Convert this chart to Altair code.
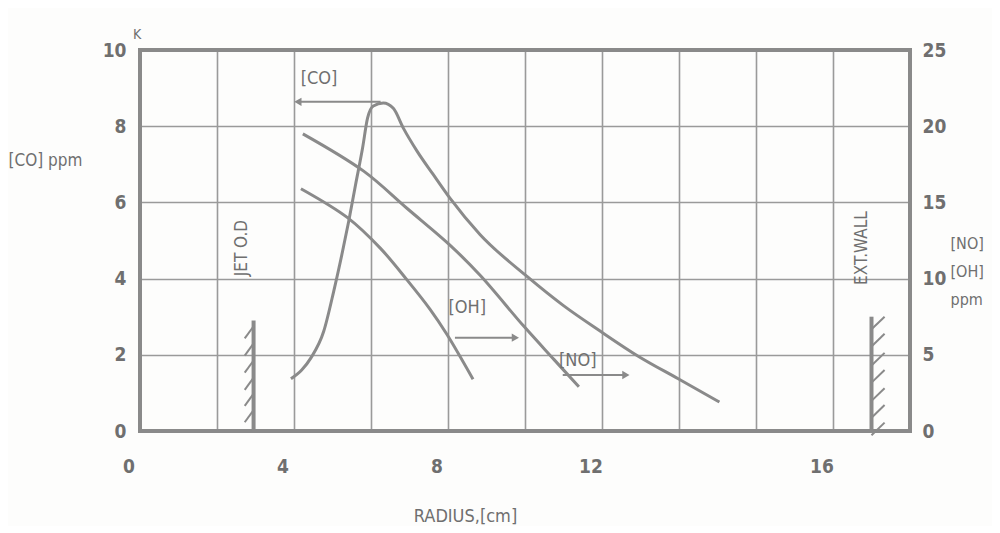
import altair as alt
import pandas as pd

# ---- data (x in cm grid units, left y in 10^3 ppm, right y in ppm) ----
co_x = [3.92, 4.20, 4.44, 4.77, 5.03, 5.26, 5.42, 5.60, 5.78, 5.91, 6.06, 6.32, 6.58, 6.84, 7.20,
        7.61, 8.05, 8.83, 10.06, 11.00, 11.97, 12.93, 13.98, 15.05]
co_y = [1.37, 1.60, 1.92, 2.61, 3.66, 4.71, 5.50, 6.47, 7.42, 8.21, 8.53, 8.61, 8.47, 7.95, 7.34,
        6.74, 6.11, 5.16, 4.05, 3.29, 2.61, 1.97, 1.37, 0.76]

no_x = [4.23, 5.81, 6.94, 8.05, 8.84, 9.96, 10.75, 11.40]
no_y = [19.5, 17.05, 14.6, 12.2, 10.2, 6.9, 4.7, 2.9]

oh_x = [4.18, 5.39, 6.24, 6.94, 7.53, 7.97, 8.65]
oh_y = [15.9, 14.0, 12.0, 9.9, 8.0, 6.35, 3.4]

x_grid = [0, 2, 4, 6, 8, 10, 12, 14, 16, 18, 20]
x_tick_pos = [0, 4, 8, 12, 18]
x_tick_text = ["0", "4", "8", "12", "16"]
left_ticks = [0, 2, 4, 6, 8, 10]
right_ticks = [0, 5, 10, 15, 20, 25]

# walls (left units)
jet_x, jet_top = 2.95, 2.9
jet_hatch_y = [2.75, 2.3, 1.85, 1.4, 0.98, 0.55]
ext_x, ext_top = 19.0, 3.0
ext_hatch_y = [3.0, 2.55, 2.05, 1.6, 1.12, 0.68, 0.22]

# annotation labels (left units)
lab_text = ["[CO]", "[OH]", "[NO]"]
lab_x = [4.65, 8.5, 11.37]
lab_y = [9.24, 3.24, 1.84]

# arrows: start, end (tip), y
arr_x1 = [6.25, 8.18, 10.98]
arr_x2 = [4.1, 9.75, 12.62]
arr_y = [8.64, 2.45, 1.47]
arr_shape = ["triangle-left", "triangle-right", "triangle-right"]

FONT = "'Liberation Sans Narrow', 'DejaVu Sans Condensed', 'Roboto Condensed', sans-serif"
INK = "#8a8a8a"
TXT = "#6f6f6f"

XD = [0, 20]
YL = [0, 10]
YR = [0, 25]

X_AXIS = alt.Axis(values=x_grid, grid=True, gridColor="#9a9a9a", gridWidth=1.6,
                  gridOpacity=1, ticks=False, domain=False, labels=False,
                  title="RADIUS,[cm]", titleFont=FONT, titleFontSize=18,
                  titleFontWeight="normal", titleColor=TXT, titleX=325, titleY=90,
                  titleBaseline="alphabetic", titleAlign="center")


def xs(field="x"):
    return alt.X(f"{field}:Q", scale=alt.Scale(domain=XD, nice=False, zero=False), axis=X_AXIS)


def yl(field="y"):
    return alt.Y(f"{field}:Q", scale=alt.Scale(domain=YL, nice=False), axis=None)


# CO curve carries the left axis
co_df = pd.DataFrame({"x": co_x, "y": co_y})
co = alt.Chart(co_df).mark_line(
    color=INK, strokeWidth=3, interpolate="monotone"
).encode(
    x=xs(),
    y=alt.Y("y:Q", scale=alt.Scale(domain=YL, nice=False),
            axis=alt.Axis(values=left_ticks, grid=True, gridColor="#9a9a9a", gridWidth=1.6,
                          gridOpacity=1, ticks=False, domain=False, labelPadding=14,
                          labelFont=FONT, labelFontSize=19, labelFontWeight="bold",
                          labelColor=TXT, title="[CO]  ppm", titleFont=FONT, titleFontSize=17,
                          titleFontWeight="normal", titleColor=TXT, titleAngle=0,
                          titleX=-132, titleY=110, titleAlign="left",
                          titleBaseline="middle")),
    order="x:Q",
)

# frame of the plot
fr_df = pd.DataFrame({"x": [XD[0]], "x2": [XD[1]], "y": [YL[0]], "y2": [YL[1]]})
frame = alt.Chart(fr_df).mark_rect(fill=None, fillOpacity=0, stroke=INK, strokeWidth=4).encode(
    x=xs(), x2="x2:Q", y=yl(), y2="y2:Q")

# x tick labels (placed as in the picture)
xt_df = pd.DataFrame({"x": x_tick_pos, "y": [0] * len(x_tick_pos), "t": x_tick_text})
xticks = alt.Chart(xt_df).mark_text(
    font=FONT, fontSize=19, fontWeight="bold", color=TXT, dx=-11, dy=36,
    align="center", baseline="middle"
).encode(x=xs(), y=yl(), text="t:N")

# right-axis series
rdf = pd.concat([
    pd.DataFrame({"x": no_x, "r": no_y, "s": "NO"}),
    pd.DataFrame({"x": oh_x, "r": oh_y, "s": "OH"}),
])
right = alt.Chart(rdf).mark_line(
    color=INK, strokeWidth=3, interpolate="catmull-rom"
).encode(
    x=xs(),
    y=alt.Y("r:Q", scale=alt.Scale(domain=YR, nice=False),
            axis=alt.Axis(orient="right", values=right_ticks, grid=False, ticks=False,
                          domain=False, labelPadding=12, labelFont=FONT, labelFontSize=19,
                          labelFontWeight="bold", labelColor=TXT,
                          title=["[NO]", "[OH]", "", "ppm"], titleFont=FONT, titleFontSize=16,
                          titleFontWeight="normal", titleColor=TXT, titleAngle=0,
                          titleX=40, titleY=193, titleAlign="left", titleBaseline="middle",
                          titleLineHeight=28)),
    detail="s:N",
    order="x:Q",
)

# walls
wall_df = pd.DataFrame({"x": [jet_x, ext_x], "y": [0, 0], "y2": [jet_top, ext_top]})
walls = alt.Chart(wall_df).mark_rule(color=INK, strokeWidth=4).encode(
    x=xs(), y=yl(), y2="y2:Q")

jet_h = pd.DataFrame({"x": [jet_x - 0.23] * len(jet_hatch_y), "x2": [jet_x] * len(jet_hatch_y),
                      "y": [v - 0.32 for v in jet_hatch_y], "y2": jet_hatch_y})
ext_h = pd.DataFrame({"x": [ext_x] * len(ext_hatch_y), "x2": [ext_x + 0.34] * len(ext_hatch_y),
                      "y": [v - 0.33 for v in ext_hatch_y], "y2": ext_hatch_y})
hatch = alt.Chart(pd.concat([jet_h, ext_h])).mark_rule(color=INK, strokeWidth=2).encode(
    x=xs(), x2="x2:Q", y=yl(), y2="y2:Q")

# wall labels
wl_df = pd.DataFrame({"x": [2.65, 18.76], "y": [4.8, 4.8], "t": ["JET O.D", "EXT.WALL"]})
wall_lab = alt.Chart(wl_df).mark_text(
    angle=270, font=FONT, fontSize=17, color=TXT, align="center", baseline="middle"
).encode(x=xs(), y=yl(), text="t:N")

# series labels
lab_df = pd.DataFrame({"x": lab_x, "y": lab_y, "t": lab_text})
labels = alt.Chart(lab_df).mark_text(
    font=FONT, fontSize=18, color=TXT, align="center", baseline="middle"
).encode(x=xs(), y=yl(), text="t:N")

# arrows
arr_df = pd.DataFrame({"x": arr_x1, "x2": arr_x2, "y": arr_y, "shape": arr_shape})
arr_lines = alt.Chart(arr_df).mark_rule(color=INK, strokeWidth=2).encode(
    x=xs(), x2="x2:Q", y=yl())
arr_heads = alt.Chart(arr_df).mark_point(
    filled=True, color=INK, size=70, opacity=1
).encode(
    x=xs("x2"), y=yl(),
    shape=alt.Shape("shape:N", scale=None, legend=None))

# "K" superscript of the top left label
k_df = pd.DataFrame({"x": [0], "y": [10], "t": ["K"]})
ksup = alt.Chart(k_df).mark_text(
    font=FONT, fontSize=14, color=TXT, dx=-7, dy=-15, align="left", baseline="middle"
).encode(x=xs(), y=yl(), text="t:N")

chart = alt.layer(
    co, right, frame, walls, hatch, wall_lab, labels, arr_lines, arr_heads, ksup, xticks
).resolve_scale(y="independent").properties(
    width=770, height=381,
    autosize=alt.AutoSizeParams(type="none"),
    padding={"left": 132, "top": 42, "right": 82, "bottom": 95},
).configure_view(
    stroke=None
).configure(background="#fdfdfc")

chart.save("out.html", embed_options={"renderer": "svg", "actions": False})
